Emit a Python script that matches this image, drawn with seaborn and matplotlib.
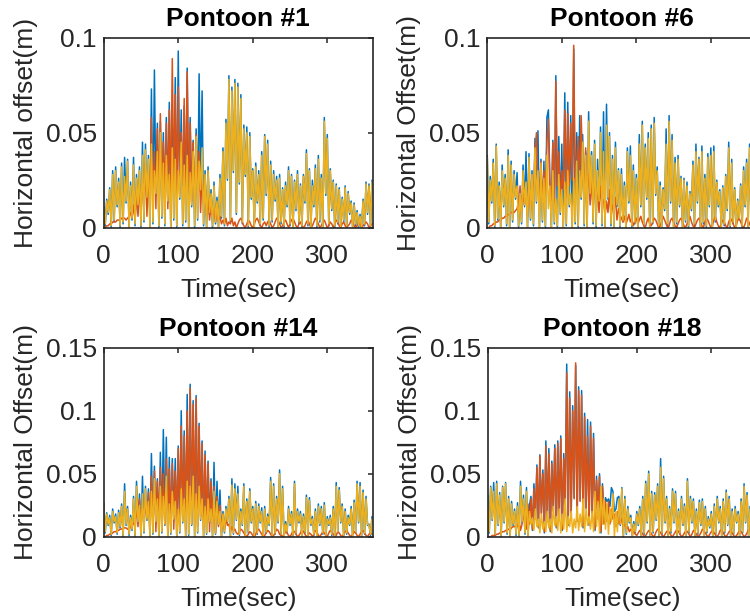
import numpy as np
import pandas as pd
import matplotlib
matplotlib.use("Agg")
import matplotlib.pyplot as plt
import seaborn as sns

# Sampling step of the offset records (seconds); every record starts at t = 0
DT = 2.0

# Horizontal offset records in millimetres, three records per pontoon
# (drawn in the order a, b, c)
p1_a = [11, 1, 15, 7, 21, 0, 30, 3, 32, 11,
        26, 0, 34, 2, 37, 13, 36, 0, 24, 4,
        37, 1, 28, 11, 32, 0, 45, 3, 44, 15,
        38, 0, 73, 2, 83, 17, 55, 0, 56, 5,
        50, 1, 58, 13, 66, 0, 60, 4, 79, 0,
        93, 15, 62, 1, 64, 3, 84, 0, 58, 11,
        46, 0, 52, 4, 81, 19, 72, 1, 30, 0,
        32, 7, 20, 0, 24, 2, 16, 0, 28, 5,
        42, 1, 57, 25, 80, 3, 74, 29, 78, 7,
        76, 23, 70, 2, 54, 27, 53, 0, 50, 15,
        31, 0, 34, 13, 30, 1, 40, 4, 49, 17,
        46, 0, 35, 3, 30, 14, 27, 0, 28, 2,
        21, 0, 24, 11, 32, 1, 28, 0, 25, 9,
        30, 2, 23, 0, 28, 13, 41, 1, 31, 0,
        25, 11, 33, 0, 38, 3, 28, 0, 58, 17,
        49, 1, 31, 9, 25, 0, 23, 2, 21, 0,
        16, 3, 22, 0, 19, 7, 14, 0, 13, 1,
        9, 0, 7, 0, 15, 1, 24, 7, 23, 0,
        25]
p1_b = [0, 0, 1, 1, 2, 2, 3, 3, 3, 4,
        4, 4, 5, 5, 5, 4, 5, 6, 8, 5,
        12, 4, 18, 6, 22, 8, 28, 10, 34, 6,
        30, 8, 58, 14, 40, 10, 52, 18, 60, 12,
        45, 20, 55, 10, 62, 16, 89, 22, 70, 15,
        74, 18, 50, 24, 68, 12, 82, 20, 55, 14,
        45, 10, 49, 16, 40, 8, 30, 12, 22, 6,
        16, 4, 12, 6, 10, 3, 8, 4, 6, 2,
        4, 2, 5, 1, 3, 2, 5, 1, 3, 0,
        2, 4, 5, 3, 1, 0, 2, 4, 3, 1,
        0, 2, 4, 5, 3, 1, 0, 2, 3, 1,
        3, 4, 2, 0, 1, 3, 5, 4, 2, 0,
        1, 3, 4, 2, 0, 2, 4, 5, 3, 1,
        0, 2, 3, 1, 0, 1, 3, 4, 2, 0,
        1, 3, 5, 4, 2, 0, 1, 3, 4, 2,
        0, 1, 3, 2, 0, 2, 4, 3, 1, 0,
        2, 3, 1, 0, 1, 2, 4, 3, 1, 0,
        1, 3, 2, 0, 1, 2, 3, 2, 0, 1,
        2]
p1_c = [10, 2, 14, 8, 20, 1, 28, 4, 30, 12,
        24, 1, 32, 3, 27, 14, 35, 0, 22, 5,
        33, 2, 26, 12, 30, 1, 38, 4, 41, 16,
        36, 0, 44, 3, 30, 18, 40, 1, 50, 6,
        34, 2, 38, 14, 28, 0, 42, 5, 36, 1,
        30, 16, 45, 2, 33, 4, 38, 0, 29, 12,
        40, 1, 48, 5, 35, 20, 42, 2, 28, 0,
        30, 8, 18, 1, 22, 3, 14, 0, 26, 6,
        40, 2, 55, 26, 78, 4, 72, 30, 76, 8,
        74, 24, 68, 3, 52, 28, 50, 1, 48, 16,
        30, 0, 32, 14, 28, 2, 38, 5, 48, 18,
        44, 1, 33, 4, 28, 15, 25, 0, 26, 3,
        20, 1, 22, 12, 30, 2, 27, 0, 24, 10,
        28, 3, 22, 1, 27, 14, 39, 2, 30, 0,
        22, 12, 31, 1, 36, 4, 26, 0, 56, 18,
        47, 2, 30, 10, 24, 1, 22, 3, 20, 0,
        15, 4, 21, 1, 18, 8, 13, 0, 12, 2,
        8, 1, 6, 0, 14, 2, 23, 8, 22, 1,
        24]

p6_a = [38, 2, 27, 13, 36, 0, 44, 4, 24, 0,
        33, 11, 28, 1, 41, 0, 35, 3, 30, 15,
        29, 0, 20, 2, 33, 11, 40, 0, 39, 4,
        30, 1, 47, 13, 51, 0, 36, 3, 35, 0,
        58, 62, 24, 0, 46, 2, 80, 0, 48, 7,
        44, 0, 71, 1, 66, 11, 59, 0, 94, 2,
        50, 0, 59, 15, 49, 1, 40, 0, 61, 17,
        40, 2, 46, 0, 36, 13, 53, 1, 61, 0,
        65, 15, 50, 1, 38, 0, 45, 11, 31, 0,
        31, 3, 24, 0, 42, 13, 43, 0, 33, 2,
        28, 0, 49, 11, 56, 1, 44, 15, 50, 0,
        54, 2, 58, 17, 32, 0, 24, 0, 21, 9,
        52, 1, 59, 13, 49, 0, 37, 2, 38, 11,
        27, 0, 26, 3, 24, 0, 19, 9, 35, 1,
        44, 13, 37, 0, 43, 2, 28, 0, 39, 11,
        42, 0, 43, 3, 25, 11, 20, 0, 22, 1,
        28, 9, 45, 0, 36, 2, 21, 0, 15, 4,
        23, 0, 32, 11, 36, 0, 44, 3, 54, 15,
        40]
p6_b = [0, 0, 1, 1, 2, 2, 3, 3, 4, 4,
        5, 5, 6, 6, 7, 7, 8, 8, 8, 9,
        10, 14, 22, 8, 18, 12, 24, 6, 20, 10,
        28, 12, 40, 50, 20, 14, 35, 10, 30, 18,
        45, 57, 20, 14, 45, 10, 77, 22, 40, 12,
        30, 20, 62, 15, 60, 22, 55, 25, 96, 18,
        35, 48, 22, 59, 30, 14, 42, 20, 28, 12,
        25, 10, 30, 14, 18, 8, 22, 12, 15, 6,
        14, 8, 20, 5, 12, 9, 16, 4, 10, 7,
        5, 3, 6, 2, 4, 7, 3, 5, 1, 3,
        5, 2, 4, 6, 3, 1, 0, 3, 5, 2,
        1, 3, 5, 4, 2, 0, 1, 3, 6, 4,
        2, 0, 1, 4, 5, 3, 1, 0, 2, 4,
        5, 3, 1, 0, 2, 4, 6, 3, 1, 0,
        2, 4, 5, 3, 1, 0, 3, 5, 4, 2,
        0, 1, 4, 6, 3, 1, 0, 2, 4, 3,
        1, 0, 3, 5, 4, 2, 0, 1, 4, 5,
        3, 1, 0, 2, 5, 4, 2, 0, 3, 4,
        2]
p6_c = [37, 3, 25, 14, 34, 1, 43, 5, 22, 0,
        30, 12, 26, 2, 38, 0, 33, 4, 28, 16,
        22, 1, 18, 3, 30, 12, 24, 0, 37, 5,
        28, 2, 42, 14, 30, 0, 34, 4, 26, 1,
        38, 10, 22, 0, 30, 3, 15, 1, 28, 8,
        20, 0, 24, 2, 30, 12, 18, 0, 26, 3,
        35, 1, 30, 16, 45, 2, 38, 0, 56, 18,
        38, 3, 44, 1, 30, 14, 50, 2, 40, 0,
        54, 16, 48, 2, 36, 0, 42, 12, 30, 1,
        28, 4, 22, 0, 40, 14, 38, 1, 30, 3,
        26, 0, 44, 12, 54, 2, 42, 16, 47, 0,
        52, 3, 55, 18, 30, 1, 22, 0, 20, 10,
        44, 2, 56, 14, 46, 0, 34, 3, 36, 12,
        26, 0, 25, 4, 22, 1, 18, 10, 33, 2,
        40, 14, 36, 0, 40, 3, 26, 1, 37, 12,
        38, 0, 40, 4, 24, 12, 19, 0, 21, 2,
        27, 10, 42, 1, 34, 3, 20, 0, 14, 5,
        22, 1, 30, 12, 34, 0, 42, 4, 52, 16,
        38]

p14_a = [27, 3, 19, 9, 17, 1, 22, 11, 18, 2,
         21, 7, 26, 0, 42, 9, 24, 1, 17, 5,
         32, 0, 44, 11, 34, 0, 48, 3, 40, 13,
         38, 0, 66, 2, 56, 11, 46, 0, 67, 3,
         85, 9, 79, 0, 63, 2, 62, 13, 62, 0,
         72, 3, 100, 11, 84, 0, 113, 1, 121, 9,
         108, 0, 112, 3, 90, 13, 76, 0, 68, 2,
         60, 11, 46, 0, 59, 2, 44, 9, 37, 0,
         20, 3, 24, 11, 32, 0, 46, 2, 42, 13,
         40, 1, 22, 9, 42, 0, 30, 3, 38, 11,
         24, 0, 28, 2, 26, 11, 23, 0, 24, 3,
         18, 9, 47, 0, 42, 2, 32, 11, 53, 1,
         40, 0, 12, 3, 24, 9, 20, 0, 44, 2,
         22, 11, 20, 0, 18, 3, 33, 0, 31, 9,
         16, 1, 22, 0, 26, 9, 24, 2, 27, 0,
         16, 9, 17, 1, 24, 0, 43, 3, 39, 11,
         26, 0, 22, 2, 17, 9, 24, 0, 29, 3,
         44, 11, 43, 0, 37, 2, 32, 9, 10, 1,
         16]
p14_b = [0, 0, 1, 1, 2, 2, 3, 4, 4, 5,
         5, 6, 6, 7, 7, 7, 6, 6, 8, 9,
         10, 14, 20, 8, 30, 12, 22, 10, 28, 16,
         35, 6, 48, 12, 52, 4, 44, 14, 55, 5,
         50, 10, 62, 3, 54, 12, 58, 6, 52, 14,
         70, 8, 88, 15, 80, 5, 100, 18, 118, 10,
         105, 20, 110, 8, 88, 16, 74, 6, 65, 12,
         58, 4, 44, 10, 40, 3, 32, 8, 25, 4,
         18, 6, 14, 9, 10, 4, 8, 5, 6, 3,
         2, 4, 6, 5, 3, 1, 0, 2, 4, 3,
         1, 0, 2, 5, 6, 4, 2, 0, 1, 3,
         5, 4, 2, 0, 1, 3, 6, 5, 2, 1,
         0, 2, 4, 3, 1, 0, 2, 5, 4, 2,
         0, 1, 3, 6, 4, 2, 0, 1, 3, 2,
         0, 2, 5, 4, 1, 0, 2, 4, 3, 1,
         0, 3, 5, 4, 2, 0, 1, 4, 3, 1,
         0, 2, 4, 5, 3, 1, 0, 2, 4, 3,
         1, 0, 2, 4, 5, 3, 1, 0, 2, 3,
         2]
p14_c = [26, 4, 18, 10, 15, 2, 20, 12, 16, 3,
         19, 8, 24, 1, 36, 10, 22, 2, 15, 6,
         30, 1, 40, 12, 25, 0, 34, 4, 38, 14,
         28, 0, 36, 3, 46, 12, 30, 1, 40, 4,
         32, 10, 48, 0, 26, 3, 36, 14, 28, 1,
         22, 4, 38, 12, 30, 0, 44, 2, 40, 10,
         48, 1, 34, 4, 40, 14, 30, 0, 24, 3,
         30, 12, 22, 1, 36, 3, 28, 10, 20, 0,
         18, 4, 22, 12, 30, 1, 41, 3, 38, 14,
         34, 2, 20, 10, 40, 0, 28, 4, 36, 12,
         22, 1, 26, 3, 24, 12, 20, 0, 22, 4,
         16, 10, 44, 1, 40, 3, 30, 12, 50, 2,
         38, 0, 10, 4, 22, 10, 18, 1, 42, 3,
         20, 12, 18, 0, 16, 4, 31, 1, 29, 10,
         14, 2, 20, 0, 24, 10, 22, 3, 25, 1,
         14, 10, 15, 2, 22, 0, 40, 4, 37, 12,
         24, 1, 20, 3, 15, 10, 22, 0, 27, 4,
         42, 12, 40, 1, 35, 3, 30, 10, 9, 2,
         14]

p18_a = [33, 3, 40, 13, 43, 1, 44, 9, 35, 0,
         40, 11, 43, 2, 32, 0, 28, 9, 22, 1,
         27, 0, 44, 11, 33, 2, 39, 0, 25, 32,
         5, 42, 15, 57, 7, 65, 19, 53, 3, 76,
         13, 70, 4, 60, 21, 73, 7, 76, 16, 80,
         5, 66, 26, 137, 9, 115, 19, 104, 31, 136,
         13, 119, 29, 116, 7, 98, 23, 93, 9, 91,
         19, 82, 5, 48, 15, 50, 3, 42, 11, 31,
         28, 30, 24, 39, 36, 20, 22, 31, 32, 9,
         39, 0, 32, 2, 24, 11, 17, 0, 12, 3,
         20, 9, 24, 0, 32, 2, 44, 11, 52, 0,
         36, 3, 35, 13, 42, 0, 62, 2, 48, 11,
         32, 0, 24, 3, 38, 11, 36, 0, 22, 2,
         32, 9, 26, 0, 46, 3, 32, 11, 30, 0,
         22, 2, 29, 9, 30, 0, 24, 3, 16, 7,
         20, 0, 26, 2, 32, 11, 24, 0, 30, 3,
         37, 9, 32, 0, 22, 2, 24, 11, 20, 0,
         30, 3, 42, 11, 35, 0, 24, 2, 32, 9,
         42]
p18_b = [0, 0, 0, 1, 1, 1, 2, 2, 3, 3,
         4, 4, 5, 5, 6, 6, 7, 8, 8, 9,
         8, 12, 5, 10, 16, 22, 6, 26, 10, 30,
         6, 38, 14, 55, 8, 64, 18, 50, 4, 72,
         12, 66, 5, 58, 20, 70, 8, 74, 15, 78,
         6, 62, 25, 130, 10, 110, 18, 100, 30, 138,
         12, 116, 28, 112, 8, 95, 22, 80, 10, 88,
         18, 78, 6, 45, 14, 48, 4, 40, 10, 28,
         12, 28, 10, 22, 14, 18, 8, 20, 10, 16,
         12, 8, 10, 6, 8, 4, 6, 3, 4, 2,
         1, 3, 5, 4, 2, 0, 1, 3, 5, 4,
         2, 0, 1, 4, 6, 5, 3, 1, 0, 2,
         4, 5, 3, 1, 0, 2, 4, 6, 4, 2,
         0, 1, 3, 5, 4, 2, 0, 2, 5, 4,
         2, 0, 1, 3, 6, 5, 3, 1, 0, 2,
         4, 5, 3, 1, 0, 2, 5, 6, 3, 1,
         0, 2, 4, 5, 3, 1, 0, 1, 3, 5,
         4, 2, 0, 1, 3, 6, 5, 3, 1, 0,
         2]
p18_c = [31, 4, 39, 14, 36, 2, 42, 10, 33, 1,
         39, 12, 42, 3, 30, 0, 26, 10, 20, 2,
         24, 1, 40, 12, 30, 3, 36, 0, 20, 10,
         15, 5, 22, 8, 14, 3, 18, 6, 12, 4,
         20, 7, 14, 3, 24, 9, 16, 5, 22, 3,
         18, 6, 30, 4, 16, 8, 20, 3, 14, 7,
         24, 5, 18, 8, 30, 4, 22, 9, 16, 6,
         20, 4, 36, 8, 28, 3, 40, 10, 30, 6,
         26, 2, 22, 12, 34, 0, 20, 4, 30, 10,
         38, 1, 30, 3, 22, 12, 15, 0, 10, 4,
         18, 10, 22, 1, 30, 3, 42, 12, 50, 0,
         34, 4, 33, 14, 40, 1, 55, 3, 46, 12,
         30, 0, 22, 4, 36, 12, 34, 1, 20, 3,
         30, 10, 24, 0, 44, 4, 30, 12, 28, 1,
         20, 3, 27, 10, 28, 0, 22, 4, 14, 8,
         18, 1, 24, 3, 30, 12, 22, 0, 28, 4,
         35, 10, 30, 1, 20, 3, 22, 12, 18, 0,
         28, 4, 40, 12, 33, 1, 22, 3, 30, 10,
         40]

titles = ["Pontoon #1", "Pontoon #6", "Pontoon #14", "Pontoon #18"]
ylabels = ["Horizontal offset(m)", "Horizontal Offset(m)",
           "Horizontal Offset(m)", "Horizontal Offset(m)"]
xlabel = "Time(sec)"
records = [(p1_a, p1_b, p1_c), (p6_a, p6_b, p6_c),
           (p14_a, p14_b, p14_c), (p18_a, p18_b, p18_c)]
xticks = [0, 100, 200, 300]
xtick_labels = ["0", "100", "200", "300"]
yticks_small = [0, 0.05, 0.1]
ytick_labels_small = ["0", "0.05", "0.1"]
yticks_large = [0, 0.05, 0.1, 0.15]
ytick_labels_large = ["0", "0.05", "0.1", "0.15"]
ytick_sets = [(yticks_small, ytick_labels_small), (yticks_small, ytick_labels_small),
              (yticks_large, ytick_labels_large), (yticks_large, ytick_labels_large)]

series_names = ["a", "b", "c"]
line_colors = ["#0072BD", "#D95319", "#EDB120"]
ink = "#262626"

sns.set_style("white")
plt.rcParams["font.family"] = ["Liberation Sans", "DejaVu Sans"]

fig = plt.figure(figsize=(7.5, 6.16), dpi=100)

# Axes boxes in figure fractions; the right column runs past the figure edge
boxes = [
    [0.1383, 0.6304, 0.3587, 0.3084],
    [0.6497, 0.6304, 0.3587, 0.3084],
    [0.1383, 0.1287, 0.3587, 0.3068],
    [0.6503, 0.1287, 0.3587, 0.3068],
]

for box, title, ylab, recs, (yt, ytl) in zip(boxes, titles, ylabels, records, ytick_sets):
    ax = fig.add_axes(box)
    frames = []
    for name, vals in zip(series_names, recs):
        vals = np.asarray(vals, dtype=float) / 1000.0
        frames.append(pd.DataFrame({
            "time": np.arange(len(vals)) * DT,
            "offset": vals,
            "series": name,
        }))
    df = pd.concat(frames, ignore_index=True)
    sns.lineplot(data=df, x="time", y="offset", hue="series",
                 hue_order=series_names, palette=line_colors,
                 estimator=None, sort=False, linewidth=1.1,
                 legend=False, ax=ax)

    ax.set_xlim(0, 361)
    ax.set_ylim(yt[0], yt[-1])
    ax.set_xticks(xticks)
    ax.set_xticklabels(xtick_labels)
    ax.set_yticks(yt)
    ax.set_yticklabels(ytl)
    ax.tick_params(direction="in", top=True, right=True, length=3.5,
                   width=1.1, color=ink, labelcolor=ink, labelsize=19)
    ax.tick_params(axis="x", pad=11.5)
    ax.tick_params(axis="y", pad=5)
    for sp in ax.spines.values():
        sp.set_color(ink)
        sp.set_linewidth(1.2)
        sp.set_visible(True)

    ax.set_title(title, fontsize=19, fontweight="bold", color="black", pad=8.6)
    ax.set_xlabel(xlabel, fontsize=19, color=ink)
    ax.set_ylabel(ylab, fontsize=19, color=ink)
    ax.xaxis.set_label_coords(0.5, -0.265)
    ax.yaxis.set_label_coords(-0.245, 0.5)

fig.savefig("out.png", dpi=100)
